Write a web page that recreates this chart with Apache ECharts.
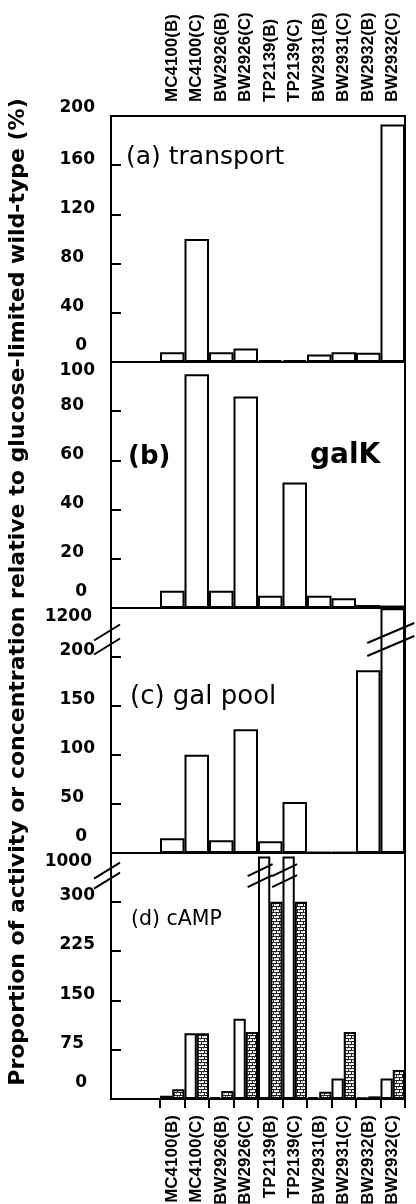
<!DOCTYPE html>
<html><head><meta charset="utf-8">
<script src="https://cdn.jsdelivr.net/npm/echarts@6/dist/echarts.min.js"></script>
<style>html,body{margin:0;padding:0;background:#fff;}#c{width:416px;height:1204px;}</style>
</head><body><div id="c"></div>
<script>
// ---------- data ----------
const strains = ['MC4100(B)','MC4100(C)','BW2926(B)','BW2926(C)','TP2139(B)','TP2139(C)','BW2931(B)','BW2931(C)','BW2932(B)','BW2932(C)'];
const spacerCats = [' ', '  '];            // two empty slots left of the first strain
const transport  = [8, 100, 8, 11, 1.5, 1.5, 6, 8, 7.5, 193];
const galK       = [7, 95, 7, 86, 5, 51, 5, 4, 1.2, 1];
const galPool    = [15, 100, 13, 126, 12, 52, 1, 1, 186, 1195];
const cAMPopen   = [5, 100, 3, 122, 950, 950, 3, 31, 2, 31];
const cAMPhatch  = [15, 100, 12, 102, 300, 300, 11, 102, 4, 44];
const ticksA = [0, 40, 80, 120, 160, 200];
const ticksB = [0, 20, 40, 60, 80, 100];
const ticksC = [0, 50, 100, 150, 200, 1200];   // break 200 -> 1200
const ticksD = [0, 75, 150, 225, 300, 1000];   // break 300 -> 1000
const panelTitles = ['(a) transport', '(b)', 'galK', '(c) gal pool', '(d) cAMP'];
const yTitle = 'Proportion of activity or concentration relative to glucose-limited wild-type (%)';

// ---------- helpers ----------
const cats = spacerCats.concat(strains);
const lead = v => ['-', '-'].concat(v);

function makePattern() {
  const c = document.createElement('canvas'); c.width = 6; c.height = 6;
  const g = c.getContext('2d');
  g.fillStyle = '#fff'; g.fillRect(0, 0, 6, 6);
  g.fillStyle = '#222';
  g.fillRect(0, 0, 6, 1); g.fillRect(0, 3, 6, 1);
  g.fillRect(0, 0, 1, 3); g.fillRect(3, 3, 1, 3);
  g.fillStyle = '#888'; g.fillRect(2, 1, 1, 1); g.fillRect(5, 4, 1, 1);
  return c;
}
const hatch = { image: makePattern(), repeat: 'repeat' };

const gridBase = { show: true, borderColor: '#000', borderWidth: 2, backgroundColor: 'transparent',
  containLabel: false, outerBoundsMode: 'none', left: 111, width: 294 };
const grids = [
  Object.assign({}, gridBase, { top: 116, height: 246 }),
  Object.assign({}, gridBase, { top: 362, height: 246 }),
  Object.assign({}, gridBase, { top: 608, height: 245 }),
  Object.assign({}, gridBase, { top: 853, height: 246 })
];

function yAxisFor(gi, ticks, hasBreak, topShift) {
  const n = ticks.length;
  const topVal = ticks[n - 1];
  const rich = {};
  ticks.forEach(v => {
    const s = String(v);
    let dy = -6;
    if (v === 0) dy = -16;
    if (v === topVal) dy = topShift;
    const right = s.length === 1 ? 8 : s.length === 2 ? 11 : s.length === 3 ? 0 : 3;
    rich['v' + v] = { padding: [dy > 0 ? 2 * dy : 0, right, dy < 0 ? -2 * dy : 0, 0] };
  });
  const ax = {
    type: 'value', gridIndex: gi, min: 0, max: topVal, interval: ticks[1] - ticks[0],
    axisLine: { show: true, onZero: false, lineStyle: { color: '#000', width: 2 } },
    axisTick: { show: true, inside: true, length: 10, lineStyle: { color: '#000', width: 2 } },
    splitLine: { show: false },
    axisLabel: {
      margin: 16, color: '#000', fontFamily: 'DejaVu Sans', fontWeight: 'bold', fontSize: 17,
      formatter: v => (rich['v' + v] ? '{v' + v + '|' + v + '}' : ''), rich: rich
    }
  };
  if (hasBreak) {
    ax.breaks = [{ start: ticks[n - 2], end: topVal, gap: '19.8%' }];
    ax.breakArea = { show: false };
  }
  return ax;
}

function xAxisFor(gi, showLabels) {
  return {
    type: 'category', gridIndex: gi, data: cats, position: 'bottom',
    axisLine: { show: true, onZero: false, lineStyle: { color: '#000', width: 2 } },
    axisTick: showLabels ? { show: true, inside: false, length: 9, interval: i => i >= 2,
      lineStyle: { color: '#000', width: 2 } } : { show: false },
    axisLabel: showLabels ? { show: true, rotate: 90, interval: 0, margin: 16, color: '#000',
      fontFamily: 'Liberation Sans', fontWeight: 'bold', fontSize: 17 } : { show: false },
    splitLine: { show: false }
  };
}

const whiteBar = { color: '#fff', borderColor: '#000', borderWidth: 2 };
const barBase = { type: 'bar', barCategoryGap: '0%', barGap: '0%', itemStyle: whiteBar, silent: true };

const chart = echarts.init(document.getElementById('c'), null, { renderer: 'canvas' });
chart.setOption({
  animation: false,
  backgroundColor: '#fff',
  grid: grids,
  xAxis: [
    xAxisFor(0, false), xAxisFor(1, false), xAxisFor(2, false), xAxisFor(3, true),
    { type: 'category', gridIndex: 0, data: cats, position: 'top',
      axisLine: { show: true, lineStyle: { color: '#000', width: 2 } }, axisTick: { show: false },
      axisLabel: { rotate: 90, interval: 0, margin: 14, color: '#000',
        fontFamily: 'Liberation Sans', fontWeight: 'bold', fontSize: 17 } }
  ],
  yAxis: [
    yAxisFor(0, ticksA, false, -8),
    yAxisFor(1, ticksB, false, 9),
    yAxisFor(2, ticksC, true, 9),
    yAxisFor(3, ticksD, true, 9)
  ],
  series: [
    Object.assign({}, barBase, { xAxisIndex: 0, yAxisIndex: 0, data: lead(transport) }),
    Object.assign({}, barBase, { xAxisIndex: 1, yAxisIndex: 1, data: lead(galK) }),
    Object.assign({}, barBase, { xAxisIndex: 2, yAxisIndex: 2, data: lead(galPool) }),
    Object.assign({}, barBase, { xAxisIndex: 3, yAxisIndex: 3, data: lead(cAMPopen) }),
    Object.assign({}, barBase, { xAxisIndex: 3, yAxisIndex: 3, data: lead(cAMPhatch),
      itemStyle: { color: hatch, borderColor: '#000', borderWidth: 2 } })
  ]
});

// ---------- annotations ----------
const txt = (s, x, y, size, weight) => ({ type: 'text', x: x, y: y, silent: true,
  style: { text: s, fontFamily: 'DejaVu Sans', fontSize: size, fontWeight: weight, fill: '#000',
    textAlign: 'left', textVerticalAlign: 'middle' } });
const graphics = [
  { type: 'text', x: 18, y: 592, rotation: Math.PI / 2, silent: true,
    style: { text: yTitle, fontFamily: 'DejaVu Sans', fontWeight: 'bold', fontSize: 22, fill: '#000',
      textAlign: 'center', textVerticalAlign: 'middle' } },
  txt(panelTitles[0], 126, 157, 25, 'normal'),
  txt(panelTitles[1], 128, 457, 26, 'bold'),
  txt(panelTitles[2], 310, 456, 28, 'bold'),
  txt(panelTitles[3], 130, 697, 26, 'normal'),
  txt(panelTitles[4], 131, 920, 20.5, 'normal')
];
function slash(cx, cy, hw, hr, sep) {
  return [-1, 1].map(k => ({ type: 'line', silent: true, z: 100,
    shape: { x1: cx - hw, y1: cy + hr + k * sep / 2, x2: cx + hw, y2: cy - hr + k * sep / 2 },
    style: { stroke: '#000', lineWidth: 2 } }));
}
const yC = chart.convertToPixel({ yAxisIndex: 2 }, ticksC[ticksC.length - 2]);
const yD = chart.convertToPixel({ yAxisIndex: 3 }, ticksD[ticksD.length - 2]);
const xCat = (ax, name) => chart.convertToPixel({ xAxisIndex: ax }, name);
const catW = xCat(3, strains[1]) - xCat(3, strains[0]);
graphics.push(...slash(107, yC - 17, 13, 8, 14));
graphics.push(...slash(xCat(2, 'BW2932(C)') - 2, yC - 17, 23.5, 10, 13));
graphics.push(...slash(107, yD - 26, 13, 8, 10));
['TP2139(B)', 'TP2139(C)'].forEach(n => {
  graphics.push(...slash(xCat(3, n) - catW / 4 - 4, yD - 26, 12.5, 6, 11));
});
chart.setOption({ graphic: graphics });
</script></body></html>
